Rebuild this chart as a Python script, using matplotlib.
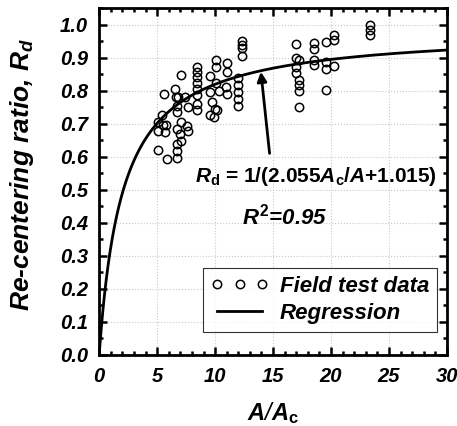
import numpy as np
import matplotlib
matplotlib.use("Agg")
import matplotlib.pyplot as plt
from matplotlib.ticker import MultipleLocator, FormatStrFormatter

plt.rcParams["font.family"] = "Liberation Sans"
plt.rcParams["font.weight"] = "bold"
plt.rcParams["font.style"] = "italic"
plt.rcParams["mathtext.fontset"] = "custom"
plt.rcParams["mathtext.rm"] = "Liberation Sans:bold:roman"
plt.rcParams["mathtext.it"] = "Liberation Sans:bold:italic"
plt.rcParams["mathtext.bf"] = "Liberation Sans:bold:roman"

# field test data
ratio_x = [5.1, 5.4, 5.55, 5.1, 5.5, 5.8, 5.7, 5.1, 5.83,
           6.55, 6.6, 6.8, 6.7, 6.7, 6.7, 6.7, 6.7, 6.7,
           7.1, 7.4, 7.7, 7.1, 7.55, 7.7, 7.0, 7.1,
           8.42, 8.42, 8.42, 8.42, 8.42, 8.42, 8.42, 8.42,
           9.6, 9.57, 10.3, 10.1, 9.7, 10.2, 10.0, 9.6, 9.9,
           10.1, 10.1, 11.0, 11.0, 10.9, 11.0,
           12.0, 12.0, 12.0, 12.0, 12.0, 12.3, 12.3, 12.3, 12.3,
           17.0, 17.0, 17.2, 17.0, 17.0, 17.2, 17.2, 17.2, 17.2,
           18.5, 18.5, 18.5, 18.5,
           19.6, 20.3, 20.3, 19.6, 19.6, 20.3, 19.6,
           23.4, 23.4, 23.4]
rd = [0.704, 0.725, 0.791, 0.679, 0.697, 0.697, 0.674, 0.620, 0.592,
      0.806, 0.781, 0.781, 0.755, 0.735, 0.684, 0.638, 0.618, 0.597,
      0.847, 0.781, 0.750, 0.704, 0.694, 0.679, 0.669, 0.648,
      0.872, 0.857, 0.842, 0.822, 0.806, 0.786, 0.760, 0.740,
      0.844, 0.796, 0.800, 0.822, 0.765, 0.740, 0.745, 0.725, 0.720,
      0.893, 0.872, 0.883, 0.857, 0.810, 0.790,
      0.837, 0.817, 0.796, 0.776, 0.755, 0.949, 0.939, 0.929, 0.905,
      0.942, 0.898, 0.893, 0.872, 0.852, 0.832, 0.817, 0.800, 0.750,
      0.944, 0.926, 0.893, 0.878,
      0.946, 0.969, 0.954, 0.888, 0.867, 0.876, 0.803,
      1.000, 0.985, 0.969]

# regression Rd = 1/(a*Ac/A + b)
coef_a = 2.055
coef_b = 1.015

xs = np.linspace(0.01, 30, 600)
fit = 1.0 / (coef_a / xs + coef_b)

fig = plt.figure(figsize=(4.57, 4.26), dpi=100)
ax = fig.add_axes([0.217, 0.167, 0.761, 0.814])

ax.plot(ratio_x, rd, "o", mfc="none", mec="black", ms=6, mew=1.1,
        label="Field test data")
ax.plot(xs, fit, color="black", lw=2, label="Regression")

ax.set_xlim(0, 30)
ax.set_ylim(0, 1.05)
ax.xaxis.set_major_locator(MultipleLocator(5))
ax.xaxis.set_minor_locator(MultipleLocator(1))
ax.yaxis.set_major_locator(MultipleLocator(0.1))
ax.yaxis.set_minor_locator(MultipleLocator(0.05))
ax.yaxis.set_major_formatter(FormatStrFormatter("%.1f"))
ax.tick_params(which="both", direction="in", top=True, right=True, width=1.8)
ax.tick_params(which="major", length=6, labelsize=14.5)
ax.tick_params(which="minor", length=3)
ax.tick_params(axis="x", pad=9)
ax.tick_params(axis="y", pad=8)
for sp in ax.spines.values():
    sp.set_linewidth(2)
ax.grid(True, which="major", linestyle=":", color="#c8c8c8", lw=0.8)

ax.set_xlabel(r"$A$/$A_\mathrm{c}$", fontsize=17, va="center")
ax.xaxis.set_label_coords(0.5, -0.167)
ax.set_ylabel(r"Re-centering ratio, $R_d$", fontsize=19, fontweight="bold",
              va="center")
ax.yaxis.set_label_coords(-0.221, 0.52)

ax.text(8.3, 0.54, r"$R_\mathrm{d}$ = 1/(2.055$A_\mathrm{c}$/$A$+1.015)",
        fontsize=15, style="normal", va="center")
ax.text(16.0, 0.42, r"$R^2$=0.95", fontsize=16,
        ha="center", va="center")
ax.annotate("", xy=(13.95, 0.857), xytext=(14.7, 0.61),
            arrowprops=dict(arrowstyle="-|>", color="black", lw=2,
                            mutation_scale=14, shrinkA=0, shrinkB=0))

leg = ax.legend(loc="lower right", bbox_to_anchor=(0.971, 0.066),
                numpoints=3, fontsize=16, frameon=True, fancybox=False,
                edgecolor="black", handlelength=2.6, borderaxespad=0,
                labelspacing=0.3, handletextpad=0.5, borderpad=0.35)
leg.get_frame().set_linewidth(0.8)

fig.savefig("out.png", dpi=100)
